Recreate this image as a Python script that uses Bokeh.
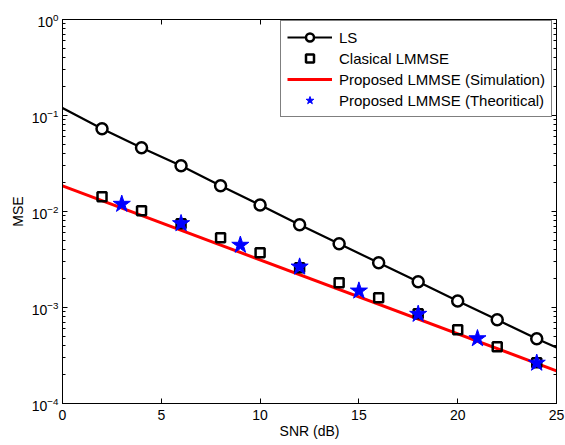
import numpy as np
from bokeh.plotting import figure
from bokeh.models import (FixedTicker, LogTickFormatter, LinearAxis,
                          Range1d, Legend, LegendItem, CustomJSTickFormatter)
from bokeh.embed import file_html
from bokeh.resources import INLINE

# ---- data ----
snr_marks = [2, 4, 6, 8, 10, 12, 14, 16, 18, 20, 22, 24]
ls_mse = [0.0727, 0.0461, 0.0299, 0.0185, 0.0117, 0.00726, 0.00461, 0.00292,
          0.00185, 0.00117, 0.000745, 0.000472]
ls_line_x = [0, 2, 4, 6, 8, 10, 12, 14, 16, 18, 20, 22, 24, 25]
ls_line_y = [0.120, 0.0727, 0.0461, 0.0299, 0.0185, 0.0117, 0.00726, 0.00461,
             0.00292, 0.00185, 0.00117, 0.000745, 0.000472, 0.000383]
clas_mse = [0.01422, 0.01017, 0.00744, 0.00532, 0.00371, 0.00259, 0.00181,
            0.00126, 0.000859, 0.000585, 0.000389, 0.000265]
sim_x = [0, 25]
sim_y = [0.0185, 0.000219]
theo_x = [3, 6, 9, 12, 15, 18, 21, 24]
theo_y = [0.01194, 0.0075, 0.00447, 0.00265, 0.00149, 0.000853, 0.000475, 0.000264]
x_ticks = [0, 5, 10, 15, 20, 25]
y_ticks = [1e-4, 1e-3, 1e-2, 1e-1, 1e0]
labels = ["LS", "Clasical LMMSE", "Proposed LMMSE (Simulation)", "Proposed LMMSE (Theoritical)"]

FONT = "Liberation Sans"

p = figure(width=565, height=445, y_axis_type="log", output_backend="svg",
           toolbar_location=None,
           x_range=Range1d(0, 25), y_range=Range1d(1e-4, 1),
           min_border_left=62, min_border_right=9, min_border_top=19,
           min_border_bottom=42)
p.background_fill_color = "white"
p.border_fill_color = "white"
p.outline_line_color = "black"
p.outline_line_width = 1
p.xgrid.visible = False
p.ygrid.visible = False

minor = [k * 10.0 ** e for e in range(-4, 0) for k in range(2, 10)]
xt = FixedTicker(ticks=x_ticks, minor_ticks=[])
yt = FixedTicker(ticks=y_ticks, minor_ticks=minor)

def style_axis(ax):
    ax.axis_line_color = "black"
    ax.axis_line_width = 1
    ax.major_tick_in = 5
    ax.major_tick_out = 0
    ax.minor_tick_in = 3
    ax.minor_tick_out = 0
    ax.major_tick_line_color = "black"
    ax.minor_tick_line_color = "black"
    ax.major_label_text_font = FONT
    ax.major_label_text_font_size = "14px"
    ax.major_label_text_color = "black"
    ax.axis_label_text_font = FONT
    ax.axis_label_text_font_size = "14px"
    ax.axis_label_text_font_style = "normal"
    ax.axis_label_text_color = "black"

xa = p.xaxis[0]
xa.ticker = xt
xa.axis_label = "SNR (dB)"
xa.major_label_standoff = 6
xa.axis_label_standoff = 0
style_axis(xa)

ya = p.yaxis[0]
ya.ticker = yt
ya.formatter = LogTickFormatter()
ya.axis_label = "MSE"
ya.major_label_standoff = 4
ya.axis_label_standoff = 3
style_axis(ya)

blank = CustomJSTickFormatter(code="return ''")
top = LinearAxis(ticker=FixedTicker(ticks=x_ticks, minor_ticks=[]), formatter=blank)
style_axis(top)
top.major_label_standoff = 0
p.add_layout(top, "above")
right = LinearAxis(ticker=FixedTicker(ticks=y_ticks, minor_ticks=minor), formatter=blank)
style_axis(right)
right.major_label_standoff = 0
p.add_layout(right, "right")

r_ls_line = p.line(ls_line_x, ls_line_y, line_color="black", line_width=2.2)
r_ls_mark = p.scatter(snr_marks, ls_mse, marker="circle", size=11,
                      line_color="black", line_width=2.5, fill_color="white")
r_sim = p.line(sim_x, sim_y, line_color="#ff0000", line_width=3)
r_clas = p.scatter(snr_marks, clas_mse, marker="square", size=9,
                   line_color="black", line_width=2.5, fill_alpha=0)
r_theo = p.scatter(theo_x, theo_y, marker="star", size=18,
                   line_color="#0000ff", fill_color="#0000ff")

leg = Legend(items=[
    LegendItem(label=labels[0], renderers=[r_ls_line, r_ls_mark]),
    LegendItem(label=labels[1], renderers=[r_clas]),
    LegendItem(label=labels[2], renderers=[r_sim]),
    LegendItem(label=labels[3], renderers=[r_theo]),
])
leg.location = (218, 286)
leg.label_text_font = FONT
leg.label_text_font_size = "15px"
leg.label_text_color = "black"
leg.glyph_width = 45
leg.glyph_height = 20
leg.label_height = 20
leg.spacing = 1
leg.padding = 6
leg.margin = 0
leg.label_standoff = 7
leg.border_line_color = "black"
leg.border_line_width = 1
leg.background_fill_color = "white"
leg.background_fill_alpha = 1
p.add_layout(leg, "center")

open("out.html", "w").write(file_html(p, INLINE))
